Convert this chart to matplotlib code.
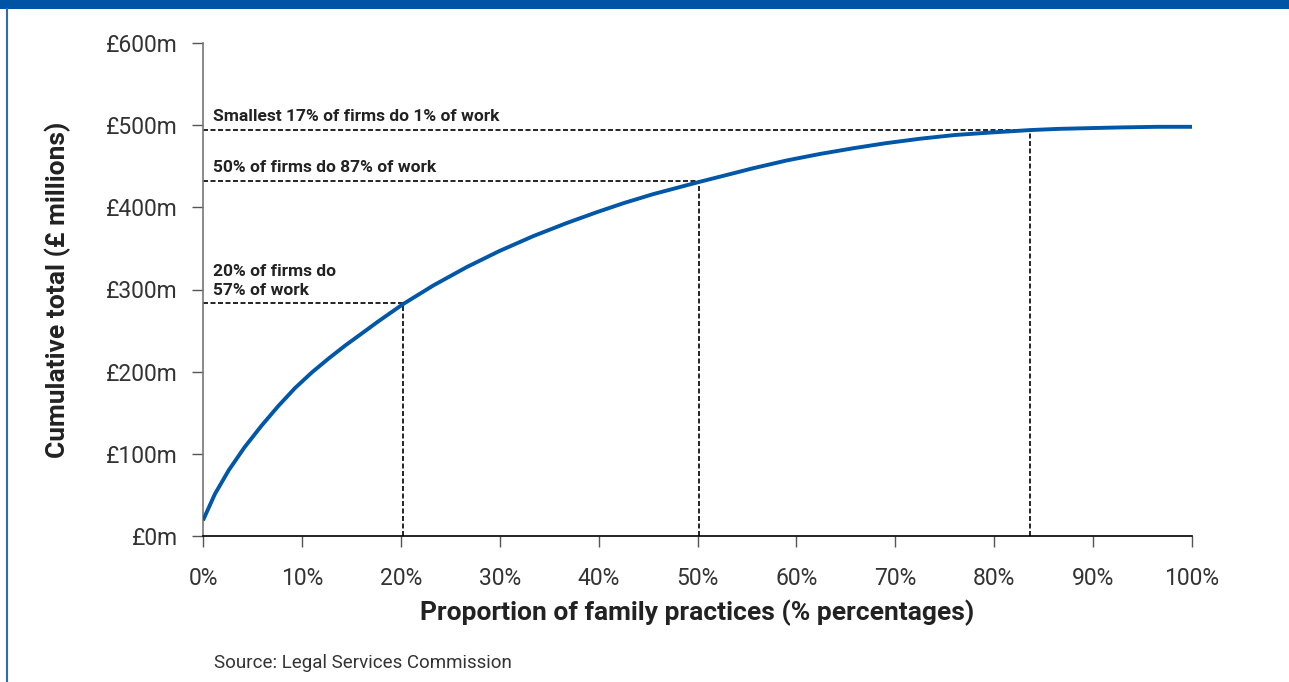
import matplotlib.pyplot as plt
from matplotlib.patches import Rectangle
from matplotlib.lines import Line2D

# cumulative total of family legal aid work by share of practices
share = [0, 1.2, 2.6, 4.2, 5.9, 7.6, 9.3, 11.0, 12.7, 14.4, 16.0, 17.7, 20.2,
         23.3, 26.7, 30.0, 33.4, 36.8, 39.8, 42.5, 45.5, 50.2, 52.5, 55.6,
         59.0, 62.4, 65.8, 69.0, 72.5, 76.0, 79.6, 83.6, 86.5, 90.0, 93.0,
         96.5, 100]
total = [19, 51, 80, 108, 134, 158, 180, 199, 216, 232, 246, 261, 282,
         305, 327.5, 347, 365, 381, 394, 405, 416, 431, 438, 447.5,
         457, 465, 472, 478, 483.5, 488, 491, 494, 495.5, 496.5, 497.3,
         498, 498]

# marked points: (share of firms, cumulative £m, label)
marks_x = [20.2, 50.2, 83.6]
marks_y = [283, 432, 494]
marks_text = ["20% of firms do\n57% of work",
              "50% of firms do 87% of work",
              "Smallest 17% of firms do 1% of work"]

xticks = list(range(0, 101, 10))
yticks = list(range(0, 601, 100))

blue = "#0057a8"
plt.rcParams['font.family'] = ['Roboto', 'DejaVu Sans']

fig = plt.figure(figsize=(12.89, 6.82), dpi=100)
ax = fig.add_axes([203 / 1289, 1 - 536 / 682, 989 / 1289, 493 / 682])

ax.plot(share, total, color=blue, linewidth=2.8, solid_capstyle='butt',
        solid_joinstyle='round', zorder=3)

for mx, my, txt in zip(marks_x, marks_y, marks_text):
    ax.plot([0, mx], [my, my], color='black', linewidth=1.2,
            dashes=(3, 1.5), zorder=2)
    ax.plot([mx, mx], [0, my], color='black', linewidth=1.2,
            dashes=(3, 1.5), zorder=2)
    ax.text(1, my + 7, txt, fontsize=12.5, fontweight='bold', color='#222222',
            ha='left', va='bottom', linespacing=1.3)

ax.set_xlim(0, 100)
ax.set_ylim(0, 600)
ax.set_xticks(xticks)
ax.set_xticklabels([f"{t}%" for t in xticks])
ax.set_yticks(yticks)
ax.set_yticklabels([f"£{t}m" for t in yticks])

for s in ['top', 'right']:
    ax.spines[s].set_visible(False)
ax.spines['left'].set_color('#777777')
ax.spines['left'].set_linewidth(1.2)
ax.spines['bottom'].set_color('black')
ax.spines['bottom'].set_linewidth(1.2)

ax.tick_params(axis='x', length=8, width=1, color='#555555', pad=14,
               labelsize=16.5, labelcolor='#333333')
ax.tick_params(axis='y', length=8, width=1, color='#555555', pad=10,
               labelsize=16.5, labelcolor='#333333')

ax.set_xlabel("Proportion of family practices (% percentages)", fontsize=19,
              fontweight='bold', color='#222222', va='center')
ax.xaxis.set_label_coords(0.5, (536 - 613) / 493)
ax.set_ylabel("Cumulative total (£ millions)", fontsize=19,
              fontweight='bold', color='#222222', va='center')
ax.yaxis.set_label_coords((58 - 203) / 989, 0.5)

# frame: top band and left rule
fig.patches.append(Rectangle((0, 1 - 9 / 682), 1, 9 / 682, transform=fig.transFigure,
                             facecolor='#0054a6', edgecolor='none'))
fig.lines.append(Line2D([7 / 1289, 7 / 1289], [0, 1 - 9 / 682], transform=fig.transFigure,
                        color='#2a6cb5', linewidth=1.5))

fig.text(214 / 1289, 1 - 663 / 682, "Source: Legal Services Commission",
         fontsize=13.5, color='#333333', ha='left', va='center')

fig.savefig("out.png", dpi=100)
